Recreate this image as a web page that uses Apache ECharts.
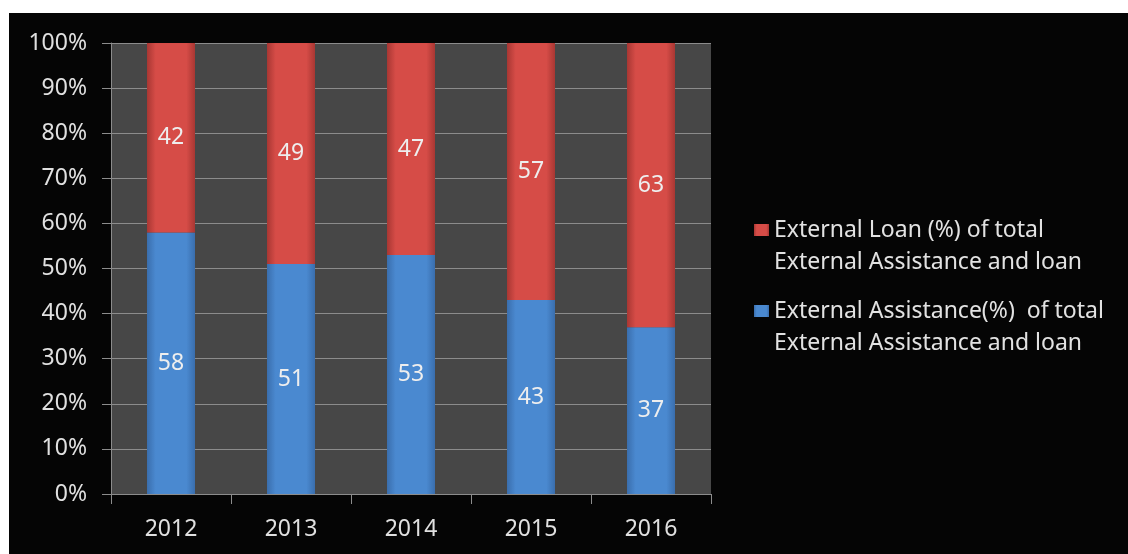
<!DOCTYPE html>
<html>
<head>
<meta charset="utf-8">
<script src="https://cdn.jsdelivr.net/npm/echarts@6/dist/echarts.min.js"></script>
<style>
  html, body { margin: 0; padding: 0; background: #fff; }
  #chart {
    position: absolute;
    left: 9px;
    top: 13px;
    width: 1119px;
    height: 541px;
    background: #050505;
  }
</style>
</head>
<body>
<div id="chart"></div>
<script>
// 数据
var years = ["2012", "2013", "2014", "2015", "2016"];
var loanName = "External Loan (%) of total\nExternal Assistance and loan";
var assistName = "External Assistance(%)  of total\nExternal Assistance and loan";
var loanData = [42, 49, 47, 57, 63];
var assistData = [58, 51, 53, 43, 37];

var font = "Noto Sans";

function barColor(edge, mid) {
  // 横向渐变，两边暗中间亮
  return new echarts.graphic.LinearGradient(0, 0, 1, 0, [
    { offset: 0, color: edge },
    { offset: 0.18, color: mid },
    { offset: 0.82, color: mid },
    { offset: 1, color: edge }
  ]);
}

var chart = echarts.init(document.getElementById("chart"));
chart.setOption({
  backgroundColor: "#050505",
  animation: false,
  grid: {
    left: 102,
    top: 30,
    width: 600,
    height: 451,
    show: true,
    backgroundColor: "#474747",
    borderWidth: 0
  },
  legend: {
    orient: "vertical",
    left: 740,
    top: 164,
    itemWidth: 15,
    itemHeight: 12,
    itemGap: -15,
    icon: "rect",
    data: [loanName, assistName],
    // 前面加一个空行，让图标对齐第一行文字
    formatter: function (name) {
      return " \n" + name;
    },
    textStyle: {
      color: "#e2e2e2",
      fontFamily: font,
      fontSize: 23,
      lineHeight: 32
    }
  },
  xAxis: {
    type: "category",
    data: years,
    axisLine: { show: true, lineStyle: { color: "#8c8c8c", width: 1 } },
    axisTick: { show: true, length: 10, interval: 0, lineStyle: { color: "#8c8c8c" } },
    axisLabel: {
      color: "#e0e0e0",
      fontFamily: font,
      fontSize: 23,
      margin: 24
    }
  },
  yAxis: {
    type: "value",
    min: 0,
    max: 100,
    interval: 10,
    axisLine: { show: true, lineStyle: { color: "#8c8c8c", width: 1 } },
    axisTick: { show: true, length: 9, lineStyle: { color: "#8c8c8c" } },
    splitLine: { show: true, lineStyle: { color: "#8c8c8c", width: 1 } },
    axisLabel: {
      formatter: "{value}%",
      color: "#e0e0e0",
      fontFamily: font,
      fontSize: 23,
      margin: 24
    }
  },
  series: [
    {
      name: assistName,
      type: "bar",
      stack: "total",
      barWidth: 48,
      data: assistData,
      itemStyle: { color: barColor("#3a6ead", "#4a89d0") },
      label: {
        show: true,
        position: "inside",
        color: "#eeeeee",
        fontFamily: font,
        fontSize: 23
      }
    },
    {
      name: loanName,
      type: "bar",
      stack: "total",
      barWidth: 48,
      data: loanData,
      itemStyle: { color: barColor("#a83733", "#d64c47") },
      label: {
        show: true,
        position: "inside",
        color: "#eeeeee",
        fontFamily: font,
        fontSize: 23
      }
    }
  ]
});
</script>
</body>
</html>
